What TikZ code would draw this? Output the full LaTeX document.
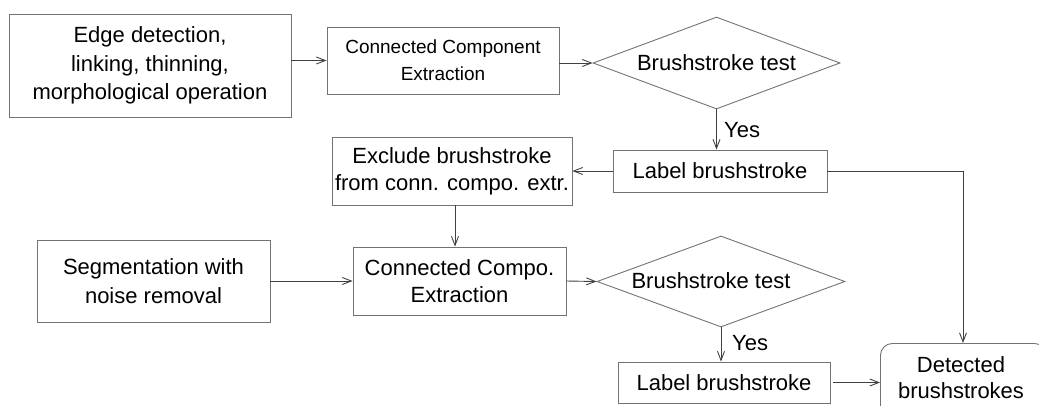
\documentclass[tikz,border=0pt]{standalone}
\usepackage{fontspec}
\setmainfont{Liberation Sans}
\usetikzlibrary{shapes.geometric,arrows.meta}
\definecolor{boxline}{gray}{0.45}
\definecolor{connline}{gray}{0.25}
\tikzset{
  boxnode/.style={draw=boxline, line width=0.9pt, rectangle, inner sep=0pt, align=center},
  bigtext/.style={font=\fontsize{22}{28.5}\selectfont},
  smalltext/.style={font=\fontsize{19}{27}\selectfont},
  diamondnode/.style={draw=boxline, line width=0.9pt, diamond, inner sep=0pt},
  plaintext/.style={inner sep=0pt, align=center, font=\fontsize{22}{28.5}\selectfont},
  conn/.style={draw=connline, line width=0.9pt, -{Straight Barb[length=9pt,width=7pt]}},
  connplain/.style={draw=connline, line width=0.9pt}
}
\begin{document}
\begin{tikzpicture}[x=1pt,y=-1pt]
\clip (0,0) rectangle (1039,405);
% nodes
\node[boxnode,bigtext,minimum width=282pt,minimum height=103pt] (b1) at (150,65.5)
  {Edge detection,\\ linking, thinning,\\ morphological operation};
\node[boxnode,smalltext,minimum width=232pt,minimum height=67pt] (b2) at (443,60.5)
  {Connected Component\\ Extraction};
\node[diamondnode,minimum width=247pt,minimum height=92pt] (d1) at (716.5,63) {};
\node[plaintext] (d1t) at (d1.center) {Brushstroke test};
\node[boxnode,bigtext,minimum width=214pt,minimum height=42pt] (l1) at (720,171) {Label brushstroke};
\node[boxnode,bigtext,font=\fontsize{22}{27}\selectfont,minimum width=240pt,minimum height=68pt] (ex) at (452,171)
  {Exclude brushstroke\\ from conn. compo. extr.};
\node[boxnode,bigtext,minimum width=233pt,minimum height=82pt] (seg) at (153.5,281)
  {Segmentation with\\ noise removal};
\node[boxnode,bigtext,font=\fontsize{22}{27}\selectfont,minimum width=213pt,minimum height=68pt] (cc2) at (459.5,281)
  {Connected Compo.\\ Extraction};
\node[diamondnode,minimum width=248pt,minimum height=91pt] (d2) at (721,281.5) {};
\node[plaintext] (d2t) at (711,281) {Brushstroke test};
\node[boxnode,bigtext,minimum width=212pt,minimum height=41pt] (l2) at (724,382.5) {Label brushstroke};
\node[boxnode,rounded corners=12pt,minimum width=166pt,minimum height=78pt,anchor=north west] (det) at (880,343) {};
\node[plaintext,font=\fontsize{22}{26}\selectfont] (dett) at (961,378) {Detected\\ brushstrokes};
\node[plaintext,anchor=west] (yes1) at (724,130) {Yes};
\node[plaintext,anchor=west] (yes2) at (732,343) {Yes};
\coordinate (exdown) at (455,205);
\coordinate (vline) at (963,171);
% connectors
\draw[conn] (b1.east |- b2.west) -- (b2.west);
\draw[conn] (b2.east |- d1.west) -- (d1.west);
\draw[conn] (d1.south) -- (d1.south |- l1.north);
\draw[conn] (l1.west) -- (ex.east);
\draw[connplain] (l1.east) -- (vline);
\draw[conn] (vline) -- (vline |- det.north);
\draw[conn] (exdown) -- (exdown |- cc2.north);
\draw[conn] (seg.east) -- (cc2.west);
\draw[conn] (cc2.east) -- (d2.west);
\draw[conn] (d2.south) -- (d2.south |- l2.north);
\draw[conn,shorten <=3pt] (l2.east) -- (l2.east -| det.west);
\end{tikzpicture}
\end{document}
